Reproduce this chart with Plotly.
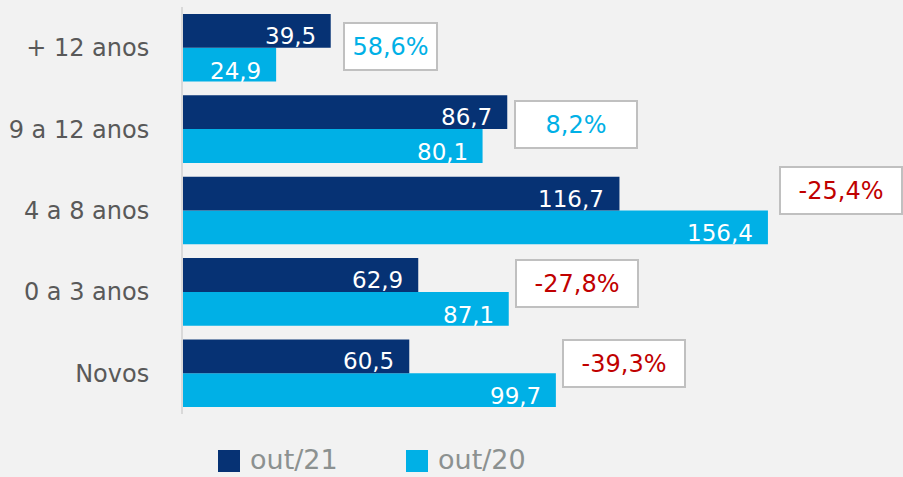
import plotly.graph_objects as go

categories = ["Novos", "0 a 3 anos", "4 a 8 anos", "9 a 12 anos", "+ 12 anos"]
out21 = [60.5, 62.9, 116.7, 86.7, 39.5]
out20 = [99.7, 87.1, 156.4, 80.1, 24.9]
variation = ["-39,3%", "-27,8%", "-25,4%", "8,2%", "58,6%"]
series_names = ["out/21", "out/20"]

DARK = "#063274"
LIGHT = "#00b0e6"
RED = "#c00000"
BG = "#f2f2f2"
FONT = "'DejaVu Sans', sans-serif"

W, H = 903, 477
L, R, T, B = 183, 0, 7, 63
PW = W - L - R
PH = H - T - B
XMAX = PW / 3.74

def fmt(v):
    return f"{v:.1f}".replace(".", ",")

def px_x(p):
    return (p - L) / PW

def px_y(p):
    return (H - B - p) / PH

idx = list(range(len(categories)))
fig = go.Figure()
# in horizontal grouped bars the first trace is drawn lower in each group
fig.add_trace(go.Bar(y=idx, x=out20, orientation="h", name=series_names[1],
                     marker=dict(color=LIGHT, line=dict(width=0)), showlegend=False))
fig.add_trace(go.Bar(y=idx, x=out21, orientation="h", name=series_names[0],
                     marker=dict(color=DARK, line=dict(width=0)), showlegend=False))

BARGAP = 0.17
bw = (1 - BARGAP) / 2
annotations = []
for i, (a, b) in enumerate(zip(out21, out20)):
    annotations.append(dict(x=a, y=i + bw / 2, xref="x", yref="y", text=fmt(a),
                            showarrow=False, xanchor="right", yanchor="middle",
                            xshift=-13, yshift=-5,
                            font=dict(family=FONT, size=23, color="white")))
    annotations.append(dict(x=b, y=i - bw / 2, xref="x", yref="y", text=fmt(b),
                            showarrow=False, xanchor="right", yanchor="middle",
                            xshift=-13, yshift=-6,
                            font=dict(family=FONT, size=23, color="white")))

box_xshift = [6, 6, 11, 7, 12]
box_yshift = [10, 8, 20, 5, 1]
box_width = [120, 120, 120, 120, 91]
for i, txt in enumerate(variation):
    col = RED if txt.startswith("-") else LIGHT
    annotations.append(dict(x=max(out21[i], out20[i]), y=i, xref="x", yref="y",
                            text=txt, showarrow=False, xanchor="left", yanchor="middle",
                            xshift=box_xshift[i], yshift=box_yshift[i],
                            width=box_width[i], height=45, align="center",
                            bgcolor="white", bordercolor="#c0c0c0", borderwidth=2, borderpad=0,
                            font=dict(family=FONT, size=24, color=col)))

shapes = []
leg_items = [(218, DARK, series_names[0]), (406, LIGHT, series_names[1])]
for x0, col, name in leg_items:
    shapes.append(dict(type="rect", xref="paper", yref="paper",
                       x0=px_x(x0), x1=px_x(x0 + 22), y0=px_y(472), y1=px_y(450),
                       fillcolor=col, line=dict(width=0)))
    annotations.append(dict(x=px_x(x0 + 30), y=px_y(459), xref="paper", yref="paper",
                            text=name, showarrow=False, xanchor="left", yanchor="middle",
                            font=dict(family=FONT, size=27, color="#8c9190")))

fig.update_layout(
    width=W, height=H,
    margin=dict(l=L, r=R, t=T, b=B),
    paper_bgcolor=BG, plot_bgcolor=BG,
    barmode="group", bargap=BARGAP, bargroupgap=0,
    showlegend=False,
    annotations=annotations, shapes=shapes,
    xaxis=dict(range=[0, XMAX], visible=False, fixedrange=True),
    yaxis=dict(range=[-0.5, len(categories) - 0.5], tickmode="array",
               tickvals=idx, ticktext=categories, showgrid=False, zeroline=False,
               showline=True, linecolor="#d9d9d9", linewidth=2,
               ticks="", ticklabelstandoff=27,
               tickfont=dict(family=FONT, size=24, color="#595959")),
)

fig.write_html("out.html", config={"displayModeBar": False},
               post_script="document.body.style.margin='0';document.body.style.background='#f2f2f2';")
